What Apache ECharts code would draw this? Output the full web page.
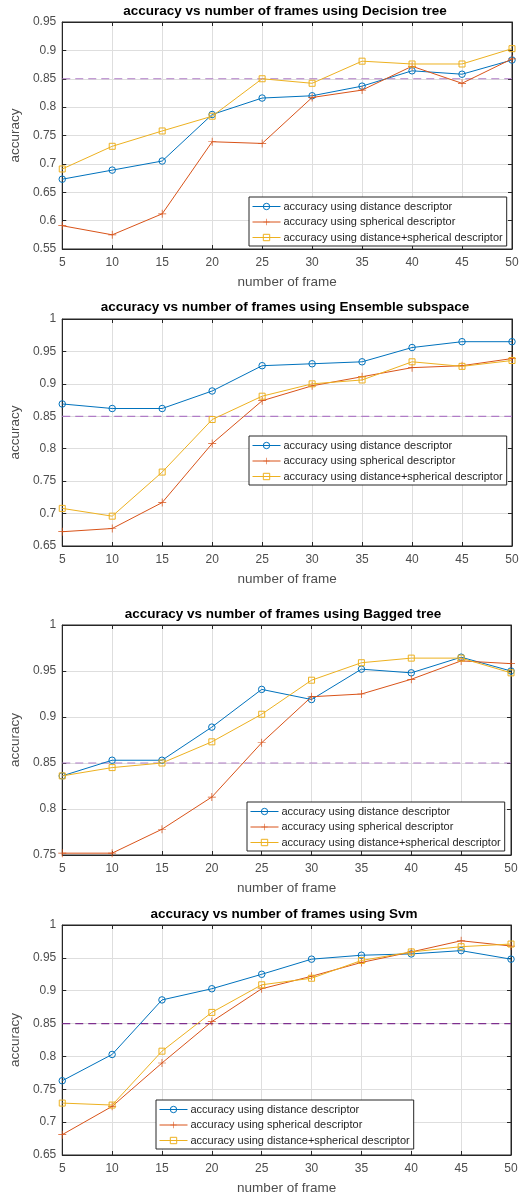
<!DOCTYPE html>
<html>
<head>
<meta charset="utf-8">
<script src="https://cdn.jsdelivr.net/npm/echarts@6/dist/echarts.min.js"></script>
<style>
html,body{margin:0;padding:0;background:#fff;}
#chart{width:527px;height:1196px;}
</style>
</head>
<body>
<div id="chart"></div>
<script>
// ---- data ----
const frames = [5, 10, 15, 20, 25, 30, 35, 40, 45, 50];
const seriesNames = ['accuracy using distance descriptor', 'accuracy using spherical descriptor', 'accuracy using distance+spherical descriptor'];
const plotTitles = [
  'accuracy vs number of frames using Decision tree',
  'accuracy vs number of frames using Ensemble subspace',
  'accuracy vs number of frames using Bagged tree',
  'accuracy vs number of frames using Svm'
];
const threshold = 0.85;

const dtDistance  = [0.673, 0.689, 0.705, 0.787, 0.816, 0.820, 0.837, 0.864, 0.858, 0.883];
const dtSpherical = [0.591, 0.575, 0.612, 0.739, 0.736, 0.817, 0.830, 0.872, 0.842, 0.885];
const dtCombined  = [0.691, 0.731, 0.758, 0.784, 0.850, 0.842, 0.881, 0.876, 0.876, 0.903];

const esDistance  = [0.869, 0.862, 0.862, 0.889, 0.928, 0.931, 0.934, 0.956, 0.965, 0.965];
const esSpherical = [0.672, 0.677, 0.717, 0.808, 0.874, 0.897, 0.911, 0.925, 0.928, 0.939];
const esCombined  = [0.708, 0.696, 0.764, 0.845, 0.881, 0.900, 0.906, 0.934, 0.927, 0.936];

const btDistance  = [0.836, 0.853, 0.853, 0.889, 0.930, 0.919, 0.952, 0.948, 0.965, 0.950];
const btSpherical = [0.752, 0.752, 0.778, 0.813, 0.872, 0.922, 0.925, 0.941, 0.961, 0.958];
const btCombined  = [0.836, 0.845, 0.850, 0.873, 0.903, 0.940, 0.959, 0.964, 0.964, 0.948];

const svDistance  = [0.763, 0.803, 0.886, 0.903, 0.925, 0.948, 0.954, 0.956, 0.961, 0.948];
const svSpherical = [0.681, 0.724, 0.790, 0.853, 0.903, 0.922, 0.943, 0.959, 0.976, 0.968];
const svCombined  = [0.729, 0.726, 0.808, 0.867, 0.909, 0.919, 0.946, 0.959, 0.967, 0.971];

const yMins = [0.55, 0.65, 0.75, 0.65];
const yMaxs = [0.95, 1.0, 1.0, 1.0];

// ---- layout / style ----
const plots = [
  {vals: [dtDistance, dtSpherical, dtCombined], left: 59, right: 15, top: 22, height: 227, titleX: 285, titleY: 11, legL: 249, legT: 197, dash: '#B07CC6'},
  {vals: [esDistance, esSpherical, esCombined], left: 59, right: 15, top: 319, height: 227, titleX: 285, titleY: 307, legL: 249, legT: 436, dash: '#B07CC6'},
  {vals: [btDistance, btSpherical, btCombined], left: 57, right: 16, top: 625, height: 230, titleX: 283, titleY: 614, legL: 247, legT: 802, dash: '#B07CC6'},
  {vals: [svDistance, svSpherical, svCombined], left: 57, right: 16, top: 925, height: 230, titleX: 284, titleY: 914, legL: 156, legT: 1100, dash: '#7E2F8E'}
];
const colors = ['#0072BD', '#D95319', '#EDB120'];
const plusPath = 'path://M4.55,0h0.9v4.55h4.55v0.9h-4.55v4.55h-0.9v-4.55h-4.55v-0.9h4.55z';
const symbols = ['circle', plusPath, 'rect'];
const symbolSizes = [6.5, 8, 6];
const FONT = '"Liberation Sans", Arial, Helvetica, sans-serif';
const axisColor = '#262626';
const labelColor = '#4d4d4d';

const fmt = v => String(parseFloat(v.toFixed(2)));

const grid = [], xAxis = [], yAxis = [], series = [], legend = [], graphic = [];
plots.forEach((p, i) => {
  grid.push({left: p.left, right: p.right, top: p.top, height: p.height, show: true, borderColor: axisColor, borderWidth: 1, backgroundColor: '#fff'});
  xAxis.push({
    type: 'value', gridIndex: i, min: 5, max: 50, interval: 5,
    name: 'number of frame', nameLocation: 'middle', nameGap: 26,
    nameTextStyle: {fontFamily: FONT, fontSize: 13.5, color: labelColor},
    axisLine: {show: true, lineStyle: {color: axisColor, width: 1}},
    axisTick: {show: true, inside: true, length: 4, lineStyle: {color: axisColor}},
    axisLabel: {fontFamily: FONT, fontSize: 12, color: labelColor, margin: 8},
    splitLine: {show: true, lineStyle: {color: '#dedede', width: 1}}
  });
  xAxis.push({
    type: 'value', gridIndex: i, position: 'top', min: 5, max: 50, interval: 5,
    axisLine: {show: true, lineStyle: {color: axisColor, width: 1}},
    axisTick: {show: true, inside: true, length: 4, lineStyle: {color: axisColor}},
    axisLabel: {show: false}, splitLine: {show: false}
  });
  yAxis.push({
    type: 'value', gridIndex: i, min: yMins[i], max: yMaxs[i], interval: 0.05,
    name: 'accuracy', nameLocation: 'middle', nameGap: 32, nameRotate: 90,
    nameTextStyle: {fontFamily: FONT, fontSize: 13.5, color: labelColor},
    axisLine: {show: true, lineStyle: {color: axisColor, width: 1}},
    axisTick: {show: true, inside: true, length: 4, lineStyle: {color: axisColor}},
    axisLabel: {fontFamily: FONT, fontSize: 12, color: labelColor, margin: 6, formatter: fmt},
    splitLine: {show: true, lineStyle: {color: '#dedede', width: 1}}
  });
  yAxis.push({
    type: 'value', gridIndex: i, position: 'right', min: yMins[i], max: yMaxs[i], interval: 0.05,
    axisLine: {show: true, lineStyle: {color: axisColor, width: 1}},
    axisTick: {show: true, inside: true, length: 4, lineStyle: {color: axisColor}},
    axisLabel: {show: false}, splitLine: {show: false}
  });
  p.vals.forEach((vals, k) => {
    series.push({
      type: 'line', name: seriesNames[k], xAxisIndex: 2 * i, yAxisIndex: 2 * i,
      data: frames.map((f, j) => [f, vals[j]]),
      symbol: symbols[k], symbolSize: symbolSizes[k], showSymbol: true,
      color: colors[k],
      lineStyle: {color: colors[k], width: 1},
      itemStyle: k === 1
        ? {color: colors[k], borderWidth: 0}
        : {color: 'rgba(255,255,255,0)', borderColor: colors[k], borderWidth: 1},
      emphasis: {disabled: true}, z: 3 + k
    });
  });
  series.push({
    type: 'line', name: 'threshold', xAxisIndex: 2 * i, yAxisIndex: 2 * i,
    data: [[frames[0], threshold], [frames[frames.length - 1], threshold]],
    symbol: 'none', lineStyle: {color: p.dash, width: 1.2, type: [8, 5]},
    emphasis: {disabled: true}, z: 2
  });
  legend.push({
    data: seriesNames, orient: 'vertical', left: p.legL, top: p.legT,
    itemWidth: 28, itemHeight: 8, itemGap: 4.5, padding: [4, 4, 3, 3],
    backgroundColor: '#fff', borderColor: axisColor, borderWidth: 1, borderRadius: 0,
    lineStyle: {width: 1}, itemStyle: {borderWidth: 1},
    textStyle: {fontFamily: FONT, fontSize: 11, color: '#262626', padding: [0, 0, 0, -2]},
    selectedMode: false, z: 10
  });
  graphic.push({
    type: 'text', x: p.titleX, y: p.titleY,
    style: {text: plotTitles[i], fill: '#000', font: 'bold 13.5px ' + FONT, textAlign: 'center', textVerticalAlign: 'middle'}
  });
});

const chart = echarts.init(document.getElementById('chart'), null, {renderer: 'canvas'});
chart.setOption({
  animation: false,
  backgroundColor: '#fff',
  grid, xAxis, yAxis, series, legend, graphic
});
</script>
</body>
</html>
